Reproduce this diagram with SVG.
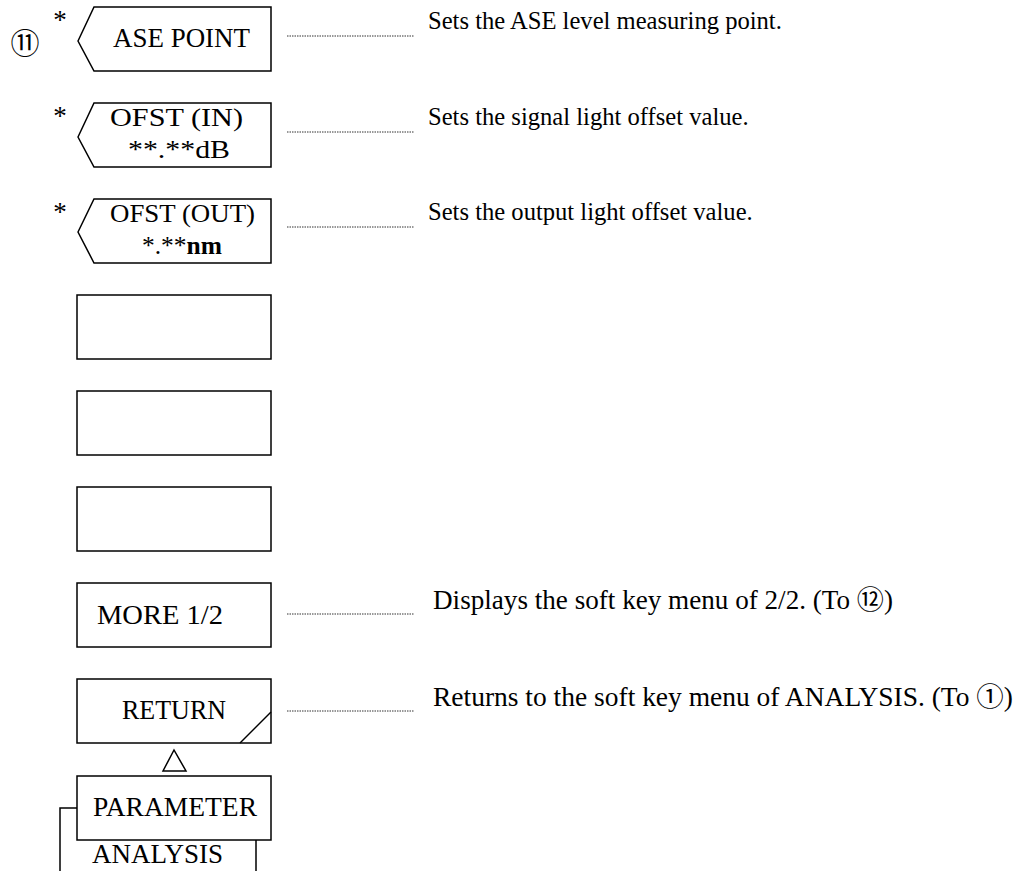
<svg xmlns="http://www.w3.org/2000/svg" width="1016" height="871" viewBox="0 0 1016 871">
<style>
.box{fill:#fff;stroke:#000;stroke-width:1.5}
.ln{fill:none;stroke:#000;stroke-width:1.5}
.lead{fill:none;stroke:#333;stroke-width:1;stroke-dasharray:1.5 1}
.k{font-family:"Liberation Serif","Times New Roman",serif;font-size:27px;fill:#000;text-anchor:middle}
.k2{font-family:"Liberation Serif","Times New Roman",serif;font-size:25px;fill:#000;text-anchor:middle}
.d{font-family:"Liberation Serif","Times New Roman",serif;font-size:24.6px;fill:#000}
.d2{font-family:"Liberation Serif","Times New Roman",serif;font-size:26.5px;fill:#000}
.ast{font-family:"Liberation Serif",serif;font-size:27px;fill:#000;text-anchor:middle}
.c{font-family:"Noto Sans CJK JP",sans-serif}
</style>
<rect width="1016" height="871" fill="#fff"/>
<text x="25" y="54" class="c" font-size="29" text-anchor="middle">⑪</text>
<g id="k1">
<text x="60" y="29" class="ast">*</text>
<path class="box" d="M78,41 L94,7 H271 V71 H94 Z"/>
<text x="181.5" y="47" class="k" textLength="137" lengthAdjust="spacingAndGlyphs">ASE POINT</text>
</g>
<g id="k2">
<text x="60" y="125" class="ast">*</text>
<path class="box" d="M78,137 L94,103 H271 V167 H94 Z"/>
<text x="176.5" y="126" class="k2" textLength="133" lengthAdjust="spacingAndGlyphs">OFST (IN)</text>
<text x="179" y="158" class="k2" textLength="102" lengthAdjust="spacingAndGlyphs">**.**dB</text>
</g>
<g id="k3">
<text x="60" y="221" class="ast">*</text>
<path class="box" d="M78,232 L94,199 H271 V263 H94 Z"/>
<text x="182.5" y="222" class="k2" textLength="145" lengthAdjust="spacingAndGlyphs">OFST (OUT)</text>
<text x="182" y="254" class="k2" textLength="80" lengthAdjust="spacingAndGlyphs">*.**<tspan font-weight="bold">nm</tspan></text>
</g>
<g id="k4"><rect class="box" x="77" y="295" width="194" height="64"/></g>
<g id="k5"><rect class="box" x="77" y="391" width="194" height="64"/></g>
<g id="k6"><rect class="box" x="77" y="487" width="194" height="64"/></g>
<g id="k7"><rect class="box" x="77" y="583" width="194" height="64"/><text x="160" y="624" class="k" textLength="126" lengthAdjust="spacingAndGlyphs">MORE 1/2</text></g>
<g id="k8"><rect class="box" x="77" y="679" width="194" height="64"/><path class="ln" d="M271,712 L240,743"/><text x="174" y="719" class="k" textLength="104" lengthAdjust="spacingAndGlyphs">RETURN</text></g>
<g id="k9"><rect class="box" x="77" y="776" width="194" height="64"/><text x="175" y="816" class="k" textLength="164" lengthAdjust="spacingAndGlyphs">PARAMETER</text></g>
<g id="k10"><text x="157.5" y="863" class="k" textLength="131" lengthAdjust="spacingAndGlyphs">ANALYSIS</text></g>
<g id="connectors">
<path class="ln" d="M174,750 L163,771 H186 Z"/>
<path class="ln" d="M77,808 H60 V871 M256,840 V871"/>
<path class="lead" d="M287,36 H414 M287,132 H414 M287,227 H414 M287,614 H414 M287,711 H414"/>
</g>
<g id="desc">
<text x="428" y="29" class="d">Sets the ASE level measuring point.</text>
<text x="428" y="125" class="d">Sets the signal light offset value.</text>
<text x="428" y="220" class="d">Sets the output light offset value.</text>
<text x="433" y="609" class="d2" textLength="460" lengthAdjust="spacingAndGlyphs">Displays the soft key menu of 2/2. (To <tspan class="c">⑫</tspan>)</text>
<text x="433" y="706" class="d2" textLength="580" lengthAdjust="spacingAndGlyphs">Returns to the soft key menu of ANALYSIS. (To <tspan class="c">①</tspan>)</text>
</g>
</svg>
